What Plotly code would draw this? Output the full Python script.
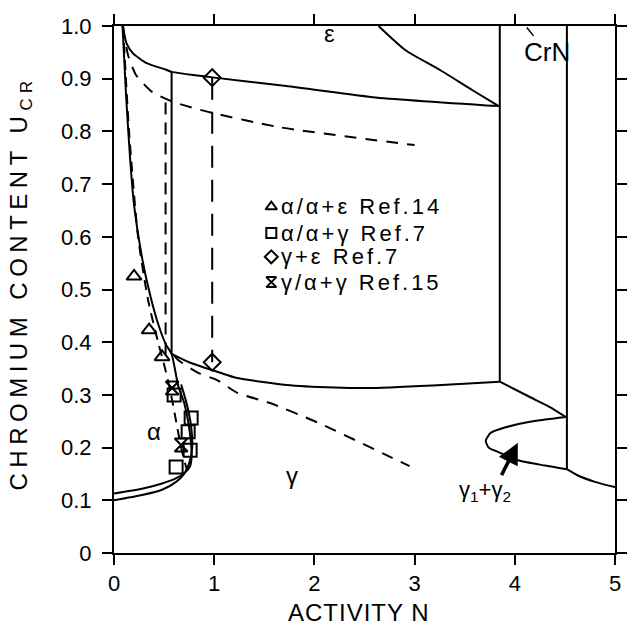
import plotly.graph_objects as go

# --- phase boundaries (activity N, chromium content u_Cr) ---
eps_low_x = [0.085, 0.10, 0.13, 0.185, 0.32, 0.52, 0.575, 0.96, 1.72, 2.58, 3.84]
eps_low_y = [1.0, 0.985, 0.965, 0.949, 0.930, 0.917, 0.913, 0.903, 0.886, 0.865, 0.848]

eps_upper_x = [2.64, 2.91, 3.25, 3.57, 3.84]
eps_upper_y = [1.0, 0.954, 0.917, 0.879, 0.848]

alpha_x = [0.085, 0.12, 0.16, 0.20, 0.28, 0.36, 0.44, 0.52, 0.575, 0.64, 0.70, 0.74,
           0.765, 0.775, 0.76, 0.71, 0.62, 0.48, 0.28, 0.0]
alpha_y = [1.0, 0.87, 0.75, 0.66, 0.56, 0.49, 0.435, 0.395, 0.378, 0.318, 0.285, 0.25,
           0.215, 0.185, 0.165, 0.153, 0.142, 0.132, 0.122, 0.113]

alpha2_x = [0.0, 0.28, 0.48, 0.62, 0.70, 0.75, 0.78, 0.77, 0.73, 0.67]
alpha2_y = [0.10, 0.11, 0.12, 0.135, 0.15, 0.17, 0.20, 0.24, 0.28, 0.32]

alpha_dash_x = [0.09, 0.15, 0.24, 0.34, 0.44, 0.51, 0.57, 0.62, 0.67, 0.71, 0.73]
alpha_dash_y = [1.0, 0.80, 0.60, 0.48, 0.40, 0.35, 0.30, 0.25, 0.20, 0.17, 0.155]

eps_dash_x = [0.09, 0.14, 0.22, 0.38, 0.59, 0.94, 1.65, 3.0]
eps_dash_y = [1.0, 0.945, 0.907, 0.875, 0.856, 0.837, 0.808, 0.774]

vdash_x = [0.515, 0.515]
vdash_y = [0.855, 0.372]

vsolid_x = [0.575, 0.575]
vsolid_y = [0.913, 0.378]

vlong_x = [0.98, 0.98]
vlong_y = [0.902, 0.362]

gam_dash_x = [0.60, 0.64, 0.84, 1.03, 1.23, 1.55, 2.04, 2.76, 2.95]
gam_dash_y = [0.375, 0.366, 0.342, 0.328, 0.304, 0.285, 0.247, 0.182, 0.165]

eg_low_x = [0.575, 0.75, 1.06, 1.23, 1.72, 2.2, 2.52, 3.18, 3.85]
eg_low_y = [0.378, 0.362, 0.342, 0.332, 0.319, 0.314, 0.313, 0.318, 0.325]

crn_left_x = [3.85, 3.85]
crn_left_y = [1.0, 0.325]

crn_right_x = [4.52, 4.52]
crn_right_y = [1.0, 0.159]

gg_top_x = [3.85, 4.15, 4.35, 4.51]
gg_top_y = [0.325, 0.296, 0.277, 0.258]

gg_loop_x = [4.51, 4.15, 3.90, 3.76, 3.71, 3.74, 3.83, 4.03, 4.30, 4.52]
gg_loop_y = [0.258, 0.249, 0.238, 0.228, 0.213, 0.200, 0.192, 0.176, 0.166, 0.159]

gg_right_x = [4.52, 4.62, 4.80, 5.0]
gg_right_y = [0.159, 0.148, 0.135, 0.125]

# --- measured points ---
ref14_x = [0.20, 0.35, 0.48]
ref14_y = [0.525, 0.423, 0.372]

ref7a_x = [0.60, 0.77, 0.74, 0.76, 0.62]
ref7a_y = [0.300, 0.256, 0.230, 0.195, 0.163]

ref7b_x = [0.98, 0.98]
ref7b_y = [0.902, 0.362]

ref15_x = [0.58, 0.67]
ref15_y = [0.313, 0.205]

series_names = ["α/α+ε Ref.14", "α/α+γ Ref.7", "γ+ε Ref.7", "γ/α+γ Ref.15"]
series_symbols = ["triangle-up-open", "square-open", "diamond-open", "hourglass-open"]

x_ticks = [0, 1, 2, 3, 4, 5]
x_tick_text = ["0", "1", "2", "3", "4", "5"]
y_ticks = [0, 0.1, 0.2, 0.3, 0.4, 0.5, 0.6, 0.7, 0.8, 0.9, 1.0]
y_tick_text = ["0", "0.1", "0.2", "0.3", "0.4", "0.5", "0.6", "0.7", "0.8", "0.9", "1.0"]

FONT = "Liberation Sans, Arial, sans-serif"
INK = "black"


def spaced(text, px):
    return f'<span style="letter-spacing:{px}px">{text}</span>'


fig = go.Figure()


def boundary(xs, ys, dash="solid", width=2):
    fig.add_trace(go.Scatter(x=xs, y=ys, mode="lines", showlegend=False,
                             line=dict(color=INK, width=width, dash=dash, shape="spline",
                                       smoothing=0.6),
                             hoverinfo="skip"))


boundary(eps_low_x, eps_low_y)
boundary(eps_upper_x, eps_upper_y)
boundary(alpha_x, alpha_y)
boundary(alpha2_x, alpha2_y)
boundary(alpha_dash_x, alpha_dash_y, dash="10px,7px")
boundary(eps_dash_x, eps_dash_y, dash="12px,9px")
boundary(vdash_x, vdash_y, dash="12px,8px")
boundary(vsolid_x, vsolid_y)
boundary(vlong_x, vlong_y, dash="22px,12px")
boundary(gam_dash_x, gam_dash_y, dash="12px,9px")
boundary(eg_low_x, eg_low_y)
boundary(crn_left_x, crn_left_y)
boundary(crn_right_x, crn_right_y)
boundary(gg_top_x, gg_top_y)
boundary(gg_loop_x, gg_loop_y)
boundary(gg_right_x, gg_right_y)

for xs, ys, sym, name in zip([ref14_x, ref7a_x, ref7b_x, ref15_x],
                             [ref14_y, ref7a_y, ref7b_y, ref15_y],
                             series_symbols, series_names):
    fig.add_trace(go.Scatter(x=xs, y=ys, mode="markers", name=name, showlegend=False,
                             marker=dict(symbol=sym, size=13, color=INK,
                                         line=dict(color=INK, width=2))))

# key: symbols on an overlay axis spanning the plot area (0..1), text as annotations
key_x = 0.314
key_text_x = 0.329
key_rows = [0.657, 0.607, 0.562, 0.514]
fig.add_trace(go.Scatter(x=[key_x] * len(key_rows), y=key_rows, mode="markers",
                         xaxis="x2", yaxis="y2", showlegend=False, hoverinfo="skip",
                         marker=dict(symbol=series_symbols, size=10, color=INK,
                                     line=dict(color=INK, width=2))))
for row, name in zip(key_rows, series_names):
    fig.add_annotation(xref="paper", yref="paper", x=key_text_x, y=row,
                       xanchor="left", yanchor="middle", showarrow=False,
                       text=spaced(name, 3),
                       font=dict(family=FONT, size=22, color=INK))

label_font = dict(family=FONT, size=24, color=INK)
fig.add_annotation(x=2.15, y=0.985, text="ε", showarrow=False, font=label_font)
fig.add_annotation(x=0.40, y=0.23, text="α", showarrow=False, font=label_font)
fig.add_annotation(x=1.78, y=0.148, text="γ", showarrow=False, font=label_font)
fig.add_annotation(x=4.12, y=0.997, ax=4.32, ay=0.95, axref="x", ayref="y",
                   text="CrN", showarrow=True, arrowhead=0,
                   arrowwidth=1.5, arrowcolor=INK, standoff=0,
                   font=dict(family=FONT, size=26, color=INK))
fig.add_annotation(x=4.03, y=0.209, ax=3.86, ay=0.145, axref="x", ayref="y",
                   text="", showarrow=True, arrowhead=2, arrowsize=1.2,
                   arrowwidth=3.5, arrowcolor=INK)
fig.add_annotation(x=3.70, y=0.118, text="γ<sub>1</sub>+γ<sub>2</sub>",
                   showarrow=False, font=dict(family=FONT, size=22, color=INK))

# axis titles
fig.add_annotation(xref="paper", yref="paper", x=0.489, y=-0.112,
                   xanchor="center", yanchor="middle",
                   text=spaced("ACTIVITY N", 1), showarrow=False,
                   font=dict(family=FONT, size=24, color=INK))
fig.add_annotation(xref="paper", yref="paper", x=-0.187, y=0.512,
                   xanchor="center", yanchor="middle", textangle=-90,
                   text=spaced("CHROMIUM CONTENT U<sub>CR</sub>", 5.5), showarrow=False,
                   font=dict(family=FONT, size=24, color=INK))

axis_common = dict(showline=True, linecolor=INK, linewidth=2, mirror="ticks",
                   ticks="outside", ticklen=10, tickwidth=2, tickcolor=INK,
                   showgrid=False, zeroline=False,
                   tickfont=dict(family=FONT, size=22, color=INK))

fig.update_xaxes(range=[0, 5], tickvals=x_ticks, ticktext=x_tick_text, **axis_common)
fig.update_yaxes(range=[0, 1], tickvals=y_ticks, ticktext=y_tick_text,
                 ticklabelstandoff=6, **axis_common)

fig.update_layout(
    width=636, height=633,
    margin=dict(l=114, r=9, t=26, b=80),
    paper_bgcolor="white", plot_bgcolor="white",
    font=dict(family=FONT, color=INK),
    showlegend=False,
    xaxis2=dict(overlaying="x", range=[0, 1], visible=False, fixedrange=True),
    yaxis2=dict(overlaying="y", range=[0, 1], visible=False, fixedrange=True),
)

fig.write_html("out.html")
